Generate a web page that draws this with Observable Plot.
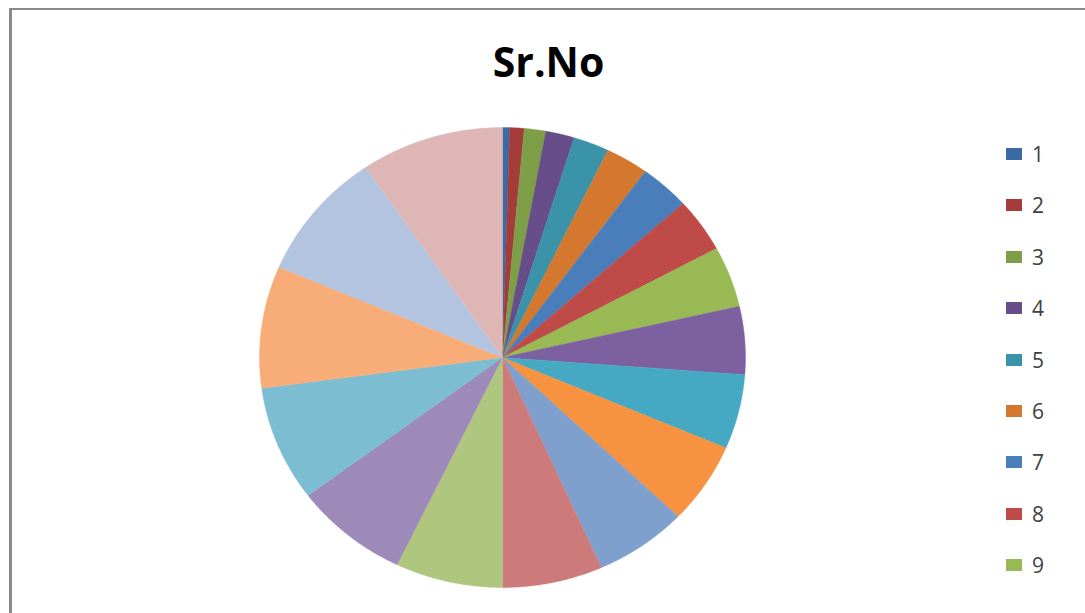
<!DOCTYPE html>
<html>
<head>
<meta charset="utf-8">
<script src="https://cdn.jsdelivr.net/npm/d3@7"></script>
<script src="https://cdn.jsdelivr.net/npm/@observablehq/plot@0.6"></script>
<style>
  html, body { margin: 0; padding: 0; background: #fff; }
  #wrap { position: relative; width: 1085px; height: 613px; overflow: hidden; background: #fff; }
  #frame { position: absolute; left: 9px; top: 8px; width: 1200px; height: 700px;
           border-left: 3px solid #8a8a8a; border-top: 2px solid #8a8a8a; box-sizing: border-box; }
  #title { position: absolute; left: 0; width: 1097px; top: 33px; text-align: center;
           font-family: "Open Sans", "DejaVu Sans", sans-serif; font-weight: 700; font-size: 41px; color: #000; }
  #chart { position: absolute; left: 0; top: 0; }
  .leg { position: absolute; left: 1006px; height: 24px; display: flex; align-items: center;
         font-family: "Open Sans", "DejaVu Sans", sans-serif; font-size: 21px; color: #404040; }
  .sw { width: 16px; height: 12px; margin-right: 10px; }
</style>
</head>
<body>
<div id="wrap">
  <div id="frame"></div>
  <div id="title">Sr.No</div>
  <div id="chart"></div>
</div>
<script>
// Data
const categories = ["1","2","3","4","5","6","7","8","9","10","11","12","13","14","15","16","17","18","19","20"];
const values = [1,2,3,4,5,6,7,8,9,10,11,12,13,14,15,16,17,18,19,20];
const colors = ["#3c6aa5","#a43c39","#7f9e48","#674e8b","#3a93a8","#d4782f",
                "#4a7ebb","#be4b48","#98b954","#7d60a0","#46a9c4","#f69240",
                "#7f9fcd","#cd7b7a","#afc67e","#9d8ab8","#7cbdd2","#f8ac78",
                "#b3c4e0","#deb6b5"];
// Legend entries visible in the reference (the rest fall below the cropped frame)
const legendShown = 9;

const total = d3.sum(values);
const pts = [];
let acc = 0;
values.forEach((v, i) => {
  const a0 = acc / total * 2 * Math.PI;
  const a1 = (acc + v) / total * 2 * Math.PI;
  acc += v;
  pts.push({k: categories[i], c: colors[i], x: 0, y: 0});
  const n = Math.max(2, Math.ceil((a1 - a0) / (Math.PI / 360)));
  for (let j = 0; j <= n; j++) {
    const a = a0 + (a1 - a0) * j / n;
    pts.push({k: categories[i], c: colors[i], x: Math.sin(a), y: Math.cos(a)});
  }
  pts.push({k: categories[i], c: colors[i], x: 0, y: 0});
});

const plot = Plot.plot({
  width: 1085,
  height: 613,
  margin: 0,
  x: {domain: [-1, 1], range: [259, 745], axis: null},
  y: {domain: [-1, 1], range: [587, 127], axis: null},
  color: {type: "identity"},
  marks: [
    Plot.line(pts, {x: "x", y: "y", z: "k", fill: "c", stroke: "c", strokeWidth: 0.4})
  ]
});
plot.style.background = "transparent";
document.getElementById("chart").appendChild(plot);

// Legend
const wrap = document.getElementById("wrap");
categories.slice(0, legendShown).forEach((c, i) => {
  const d = document.createElement("div");
  d.className = "leg";
  d.style.top = (154 + i * 51.4 - 12) + "px";
  const s = document.createElement("div");
  s.className = "sw";
  s.style.background = colors[i];
  const t = document.createElement("span");
  t.textContent = c;
  d.appendChild(s); d.appendChild(t);
  wrap.appendChild(d);
});
</script>
</body>
</html>
